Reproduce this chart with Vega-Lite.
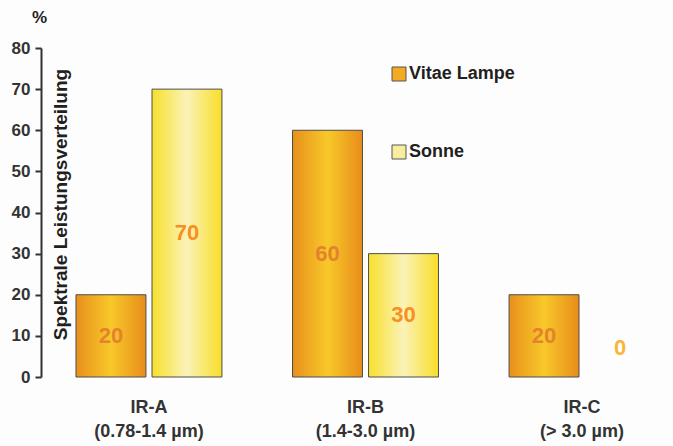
{
  "$schema": "https://vega.github.io/schema/vega-lite/v6.json",
  "width": 649,
  "height": 329,
  "autosize": "none",
  "padding": {"left": 41, "top": 48, "right": 0, "bottom": 69},
  "background": "#fdfdfd",
  "title": {"text": "%", "anchor": "start", "frame": "group", "dx": -9, "offset": 12, "fontSize": 17, "fontWeight": "bold", "font": "Liberation Sans", "color": "#231f20"},
  "config": {"font": "Liberation Sans", "view": {"stroke": null}},
  "data": {
    "values": [
      {"group": "IR-A|(0.78-1.4 µm)", "series": "Vitae Lampe", "value": 20},
      {"group": "IR-A|(0.78-1.4 µm)", "series": "Sonne", "value": 70},
      {"group": "IR-B|(1.4-3.0 µm)", "series": "Vitae Lampe", "value": 60},
      {"group": "IR-B|(1.4-3.0 µm)", "series": "Sonne", "value": 30},
      {"group": "IR-C|(> 3.0 µm)", "series": "Vitae Lampe", "value": 20},
      {"group": "IR-C|(> 3.0 µm)", "series": "Sonne", "value": 0}
    ]
  },
  "encoding": {
    "x": {
      "field": "group", "type": "nominal", "sort": null,
      "scale": {"paddingInner": 0.326, "paddingOuter": 0.1616},
      "axis": {
        "title": null, "labelAngle": 0, "domain": false, "ticks": false,
        "labelExpr": "split(datum.label, '|')",
        "labelFontSize": 18, "labelFontWeight": "bold", "labelColor": "#333333",
        "labelPadding": 21, "labelBaseline": "top", "labelLineHeight": 24
      }
    },
    "xOffset": {"field": "series", "type": "nominal", "sort": ["Vitae Lampe", "Sonne"], "scale": {"paddingInner": 0.08, "paddingOuter": 0}}
  },
  "layer": [
    {
      "transform": [{"filter": "datum.value > 0"}],
      "mark": {"type": "bar", "stroke": "#4d4d4d", "strokeWidth": 1},
      "encoding": {
        "y": {
          "field": "value", "type": "quantitative",
          "scale": {"domain": [0, 80]},
          "axis": {
            "values": [0, 10, 20, 30, 40, 50, 60, 70, 80],
            "grid": false, "title": "Spektrale Leistungsverteilung",
            "titleX": 19, "titleY": 156, "titleAngle": -90, "titleBaseline": "middle", "titleAlign": "center",
            "titleFontSize": 19, "titleFontWeight": "bold", "titleColor": "#231f20",
            "domainColor": "#333333", "domainWidth": 2, "tickColor": "#333333", "tickWidth": 2, "tickSize": 6,
            "labelFontSize": 17, "labelFontWeight": "bold", "labelColor": "#333333", "labelPadding": 5
          }
        },
        "fill": {
          "condition": {
            "test": "datum.series === 'Vitae Lampe'",
            "value": {"gradient": "linear", "x1": 0, "y1": 0, "x2": 1, "y2": 0, "stops": [
              {"offset": 0, "color": "#e8901c"}, {"offset": 0.5, "color": "#f8c82a"}, {"offset": 1, "color": "#e88d1a"}]}
          },
          "value": {"gradient": "linear", "x1": 0, "y1": 0, "x2": 1, "y2": 0, "stops": [
            {"offset": 0, "color": "#f8e02c"}, {"offset": 0.5, "color": "#faf2b8"}, {"offset": 1, "color": "#f8de28"}]}
        }
      }
    },
    {
      "transform": [{"filter": "false"}],
      "mark": {"type": "point", "shape": "square", "filled": true, "opacity": 1},
      "encoding": {
        "y": {"field": "value", "type": "quantitative"},
        "color": {
          "field": "series", "type": "nominal",
          "scale": {"domain": ["Vitae Lampe", "Sonne"], "range": ["#f2ab22", "#f6ee9c"]},
          "legend": {
            "title": null, "orient": "none", "legendX": 349, "legendY": 17,
            "symbolType": "square", "symbolSize": 196, "symbolStrokeColor": "#555555", "symbolStrokeWidth": 1, "symbolOpacity": 1,
            "labelFontSize": 18, "labelFontWeight": "bold", "labelColor": "#231f20", "labelOffset": 1,
            "rowPadding": 60
          }
        }
      }
    },
    {
      "transform": [{"calculate": "max(datum.value / 2, 7)", "as": "labelPos"}],
      "mark": {"type": "text", "fontSize": 22, "fontWeight": "bold", "baseline": "middle"},
      "encoding": {
        "y": {"field": "labelPos", "type": "quantitative"},
        "text": {"field": "value", "type": "quantitative"},
        "color": {
          "condition": [
            {"test": "datum.value === 0", "value": "#f8b63a"},
            {"test": "datum.series === 'Vitae Lampe'", "value": "#e4822e"}
          ],
          "value": "#f7901e"
        }
      }
    }
  ]
}
